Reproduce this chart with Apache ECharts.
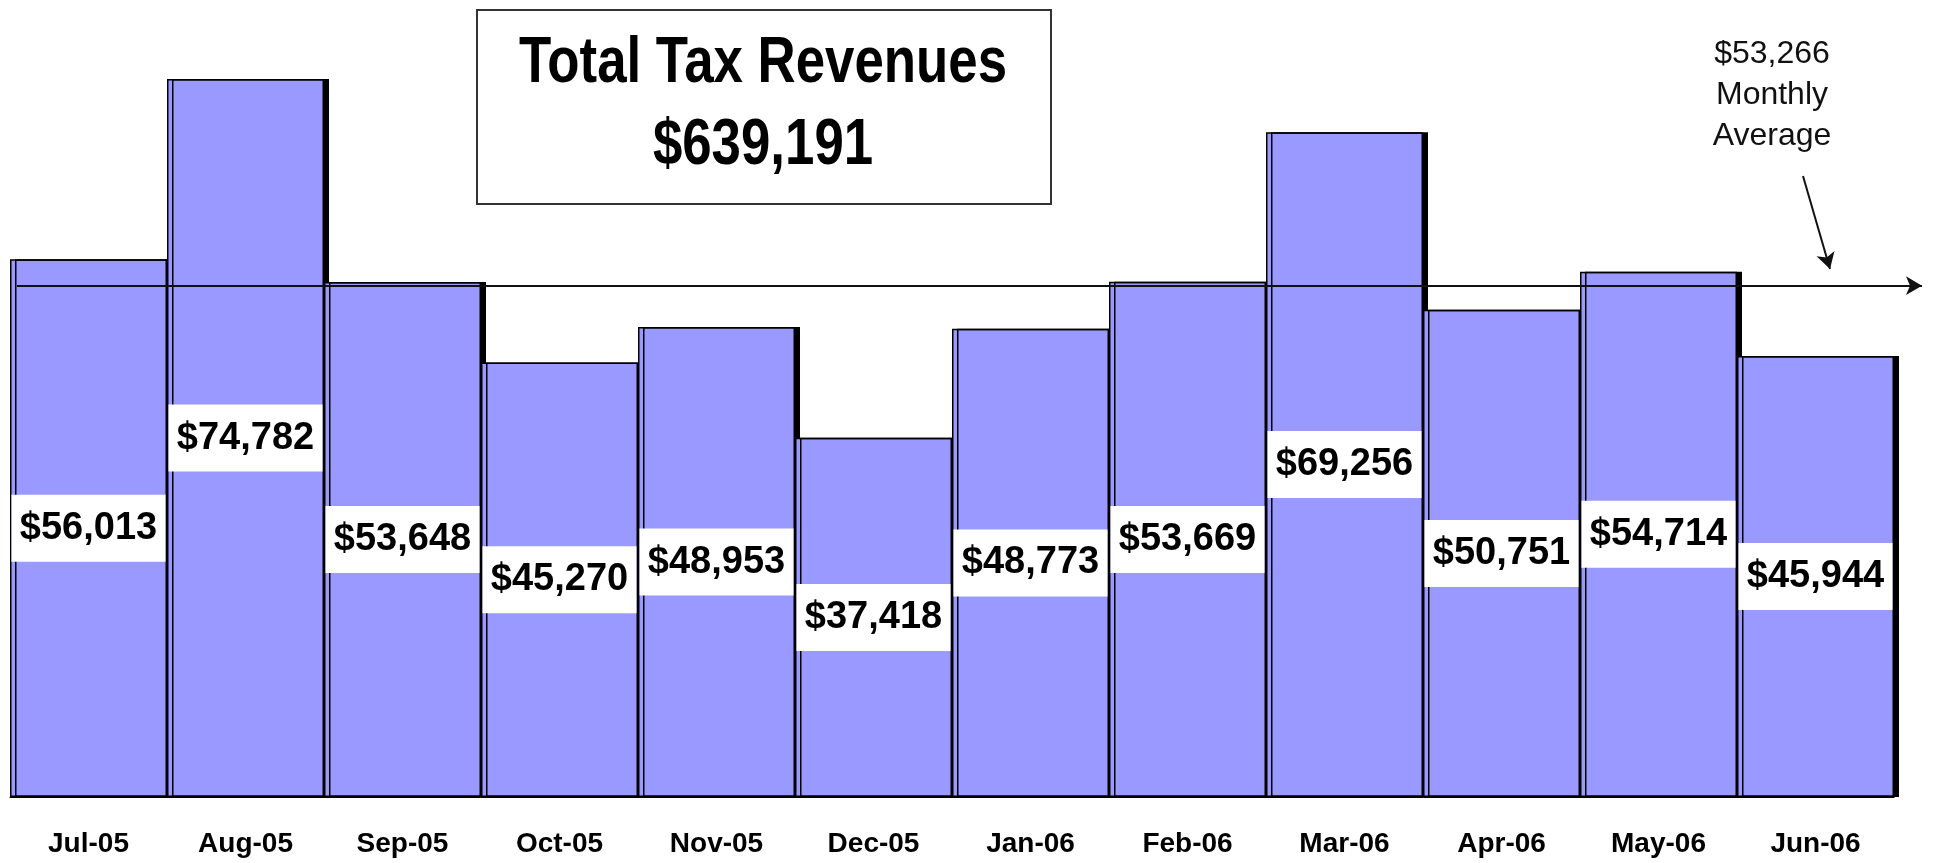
<!DOCTYPE html>
<html lang="en">
<head>
    <meta charset="UTF-8">
    <title>Total Tax Revenues</title>
    <script src="https://cdn.jsdelivr.net/npm/echarts@6/dist/echarts.min.js"></script>
    <style>
        html, body { margin: 0; padding: 0; background: #ffffff; }
        #chart { width: 1939px; height: 863px; }
    </style>
</head>
<body>
<div id="chart"></div>
<script>
    // monthly figures
    var months = ['Jul-05', 'Aug-05', 'Sep-05', 'Oct-05', 'Nov-05', 'Dec-05',
                  'Jan-06', 'Feb-06', 'Mar-06', 'Apr-06', 'May-06', 'Jun-06'];
    var revenues = [56013, 74782, 53648, 45270, 48953, 37418,
                    48773, 53669, 69256, 50751, 54714, 45944];
    var titleLines = ['Total Tax Revenues'];
    var avgLines = ['Monthly', 'Average'];

    var total = revenues.reduce(function (a, b) { return a + b; }, 0);
    var average = total / revenues.length;

    function money(v) {
        return '$' + Math.round(v).toLocaleString('en-US');
    }

    var myChart = echarts.init(document.getElementById('chart'));

    var option = {
        backgroundColor: '#ffffff',
        animation: false,
        grid: {
            left: 10,
            right: 45,
            top: 29,
            bottom: 66
        },
        xAxis: {
            type: 'category',
            data: months,
            axisLine: { lineStyle: { color: '#000', width: 1 } },
            axisTick: { length: 10, lineStyle: { color: '#000', width: 1 } },
            axisLabel: {
                color: '#000',
                fontFamily: "'Liberation Sans Narrow', 'Liberation Sans', Arial, sans-serif",
                fontWeight: 'bold',
                fontSize: 28,
                margin: 33
            }
        },
        yAxis: {
            type: 'value',
            min: 0,
            max: 80000,
            show: false,
            splitLine: { show: false }
        },
        series: [
            {
                type: 'bar',
                data: revenues,
                barCategoryGap: 0,
                itemStyle: {
                    color: '#9999FF',
                    borderColor: '#000',
                    borderWidth: 1.5,
                    shadowColor: '#000',
                    shadowOffsetX: 5,
                    shadowOffsetY: 0,
                    shadowBlur: 0
                },
                label: {
                    show: true,
                    position: 'inside',
                    formatter: function (p) { return money(p.value); },
                    color: '#000',
                    fontFamily: "'Liberation Sans', Arial, sans-serif",
                    fontWeight: 'bold',
                    fontSize: 38,
                    lineHeight: 39,
                    backgroundColor: '#ffffff',
                    width: 154,
                    align: 'center',
                    padding: [14, 0, 14, 0]
                },
                markLine: {
                    silent: true,
                    animation: false,
                    label: { show: false },
                    lineStyle: { color: '#111', width: 2, type: 'solid' },
                    symbolSize: [14, 16],
                    data: [
                        [
                            { x: 17, yAxis: average, symbol: 'none' },
                            { x: 1922, yAxis: average, symbol: 'arrow' }
                        ],
                        [
                            { x: 1803, y: 176, symbol: 'none' },
                            { x: 1830, y: 269, symbol: 'arrow' }
                        ]
                    ]
                }
            }
        ],
        graphic: [
            {
                type: 'rect',
                left: 476,
                top: 9,
                shape: { width: 574, height: 194 },
                style: { fill: '#ffffff', stroke: '#333', lineWidth: 2 },
                z: 10
            },
            {
                type: 'text',
                x: 763,
                y: 64,
                scaleX: 0.825,
                style: {
                    text: titleLines[0],
                    align: 'center',
                    verticalAlign: 'middle',
                    fill: '#000',
                    font: "bold 64px 'Liberation Sans', Arial, sans-serif"
                },
                z: 11
            },
            {
                type: 'text',
                x: 763,
                y: 146,
                scaleX: 0.825,
                style: {
                    text: money(total),
                    align: 'center',
                    verticalAlign: 'middle',
                    fill: '#000',
                    font: "bold 64px 'Liberation Sans', Arial, sans-serif"
                },
                z: 11
            },
            {
                type: 'text',
                x: 1772,
                y: 95,
                style: {
                    text: money(average) + '\n' + avgLines.join('\n'),
                    align: 'center',
                    verticalAlign: 'middle',
                    lineHeight: 41,
                    fill: '#111',
                    font: "32px 'Liberation Sans', Arial, sans-serif"
                },
                z: 11
            }
        ]
    };

    myChart.setOption(option);

    window.addEventListener('resize', function () {
        myChart.resize();
    });
</script>
</body>
</html>
